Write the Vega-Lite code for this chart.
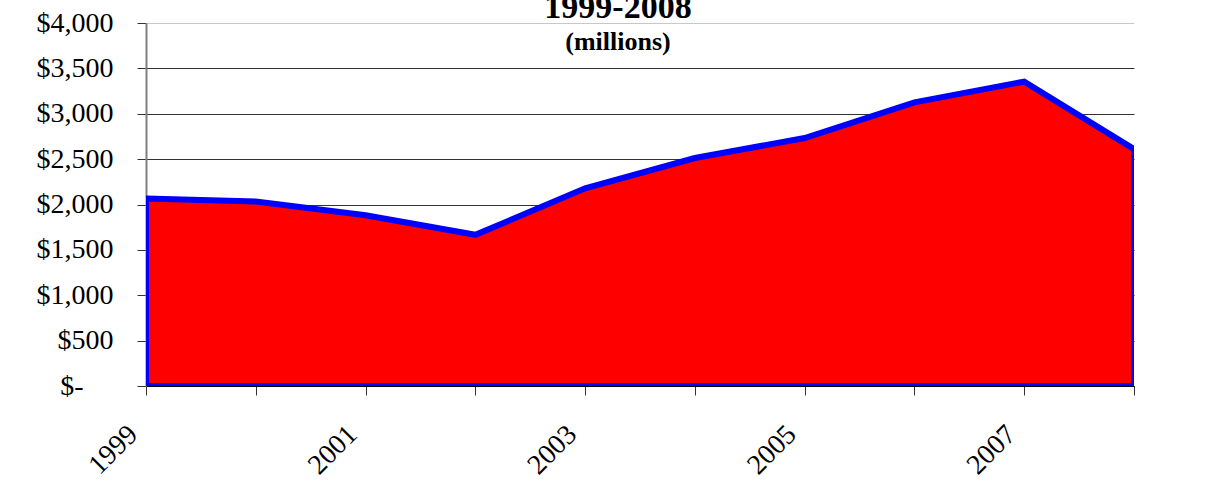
{
  "$schema": "https://vega.github.io/schema/vega-lite/v6.json",
  "width": 988,
  "height": 363,
  "autosize": {"type": "none"},
  "padding": {"left": 146, "top": 23, "right": 91, "bottom": 109},
  "background": "white",
  "config": {"view": {"stroke": null}, "font": "Times New Roman, Liberation Serif, serif"},
  "title": {
    "text": "1999-2008",
    "subtitle": "(millions)",
    "font": "Times New Roman, Liberation Serif, serif",
    "fontSize": 34,
    "fontWeight": "bold",
    "color": "black",
    "subtitleFont": "Times New Roman, Liberation Serif, serif",
    "subtitleFontSize": 26,
    "subtitleFontWeight": "bold",
    "subtitleColor": "black",
    "subtitlePadding": 4,
    "anchor": "middle",
    "dx": -22,
    "offset": -46
  },
  "data": {
    "values": [
      {"year": 1999, "value": 2065},
      {"year": 2000, "value": 2033},
      {"year": 2001, "value": 1882},
      {"year": 2002, "value": 1666},
      {"year": 2003, "value": 2178},
      {"year": 2004, "value": 2512},
      {"year": 2005, "value": 2733},
      {"year": 2006, "value": 3126},
      {"year": 2007, "value": 3354},
      {"year": 2008, "value": 2610}
    ]
  },
  "mark": {
    "type": "area",
    "fill": "#ff0000",
    "fillOpacity": 1,
    "opacity": 1,
    "stroke": "#0000ff",
    "strokeWidth": 6,
    "strokeJoin": "miter",
    "clip": true
  },
  "encoding": {
    "x": {
      "field": "year",
      "type": "quantitative",
      "scale": {"domain": [1999, 2008], "nice": false, "zero": false},
      "axis": {
        "values": [1999, 2000, 2001, 2002, 2003, 2004, 2005, 2006, 2007, 2008],
        "labelExpr": "datum.value % 2 === 1 ? '' + datum.value : ''",
        "labelAngle": -45,
        "labelFont": "Times New Roman, Liberation Serif, serif",
        "labelFontSize": 28,
        "labelColor": "black",
        "labelPadding": 25,
        "labelOffset": -23,
        "labelFlush": false,
        "labelOverlap": false,
        "tickSize": 9,
        "tickColor": "#333333",
        "domainColor": "#000000",
        "grid": false,
        "title": null
      }
    },
    "y": {
      "field": "value",
      "type": "quantitative",
      "scale": {"domain": [0, 4000], "nice": false},
      "axis": {
        "values": [0, 500, 1000, 1500, 2000, 2500, 3000, 3500, 4000],
        "labelExpr": "datum.value === 0 ? '$-' : '$' + format(datum.value, ',')",
        "labelFont": "Times New Roman, Liberation Serif, serif",
        "labelFontSize": 28,
        "labelColor": "black",
        "labelPadding": {"condition": {"test": "datum.value === 0", "value": 54}, "value": 24},
        "labelFlush": false,
        "labelOverlap": false,
        "tickSize": 9,
        "tickColor": "#333333",
        "domainColor": "#808080",
        "domainWidth": 2,
        "grid": true,
        "gridColor": {"condition": {"test": "datum.value === 4000", "value": "#c8c8c8"}, "value": "#333333"},
        "gridWidth": 1,
        "title": null
      }
    }
  }
}
